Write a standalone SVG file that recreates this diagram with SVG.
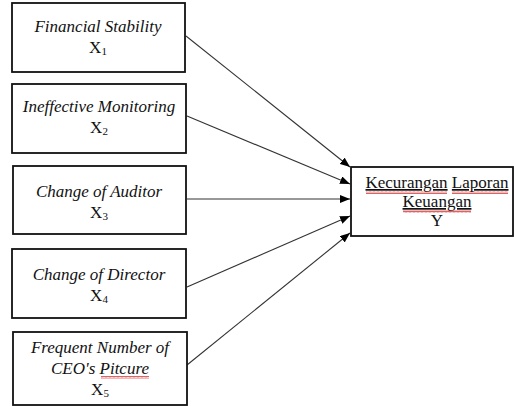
<svg xmlns="http://www.w3.org/2000/svg" width="514" height="406" viewBox="0 0 514 406">
<defs>
<marker id="ah" markerWidth="10" markerHeight="8" refX="10" refY="4" orient="auto" markerUnits="userSpaceOnUse">
<path d="M0,0 L10,4 L0,8 Z" fill="#000"/>
</marker>
<pattern id="sq" width="4" height="3" patternUnits="userSpaceOnUse">
<path d="M0,2.5 L1,0.5 L2,2.5 L3,0.5 L4,2.5" fill="none" stroke="#d02020" stroke-width="0.7"/>
</pattern>
</defs>
<style>
.box{fill:#fff;stroke:#111;stroke-width:1.8}
text{font-family:'Liberation Serif','DejaVu Serif',serif;font-size:17px;fill:#111;text-anchor:middle}
.it{font-style:italic}
.sub{font-size:11px}
.con{stroke:#333;stroke-width:1.1;fill:none;marker-end:url(#ah)}
.u{text-decoration:underline}
</style>
<g id="connectors">
<line class="con" x1="186" y1="36" x2="350" y2="167"/>
<line class="con" x1="187" y1="116" x2="350" y2="184"/>
<line class="con" x1="187" y1="199" x2="350" y2="199"/>
<line class="con" x1="187" y1="287" x2="350" y2="216"/>
<line class="con" x1="187" y1="365" x2="350" y2="233"/>
</g>
<g id="x1">
<rect class="box" x="12" y="3" width="173" height="69"/>
<text class="it" x="98" y="32">Financial Stability</text>
<text x="98" y="53">X<tspan class="sub" dy="2">1</tspan></text>
</g>
<g id="x2">
<rect class="box" x="12" y="84" width="174" height="69"/>
<text class="it" x="99" y="112">Ineffective Monitoring</text>
<text x="99" y="133">X<tspan class="sub" dy="2">2</tspan></text>
</g>
<g id="x3">
<rect class="box" x="13" y="166" width="173" height="68"/>
<text class="it" x="99" y="197">Change of Auditor</text>
<text x="99" y="218">X<tspan class="sub" dy="2">3</tspan></text>
</g>
<g id="x4">
<rect class="box" x="12" y="249" width="174" height="69"/>
<text class="it" x="99" y="280">Change of Director</text>
<text x="99" y="301">X<tspan class="sub" dy="2">4</tspan></text>
</g>
<g id="x5">
<rect class="box" x="13" y="332" width="174" height="73"/>
<text class="it" x="100" y="353">Frequent Number of</text>
<text class="it" x="100" y="374">CEO's Pitcure</text>
<rect x="101" y="376" width="48" height="3" fill="url(#sq)"/>
<text x="100" y="395">X<tspan class="sub" dy="2">5</tspan></text>
</g>
<g id="y">
<rect class="box" x="351" y="167" width="162" height="69"/>
<text x="437" y="188"><tspan class="u">Kecurangan</tspan> <tspan class="u">Laporan</tspan></text>
<rect x="366" y="191" width="81" height="3" fill="url(#sq)"/>
<rect x="452" y="191" width="56" height="3" fill="url(#sq)"/>
<text x="437" y="207"><tspan class="u">Keuangan</tspan></text>
<rect x="403" y="210" width="68" height="3" fill="url(#sq)"/>
<text x="437" y="226">Y</text>
</g>
</svg>
